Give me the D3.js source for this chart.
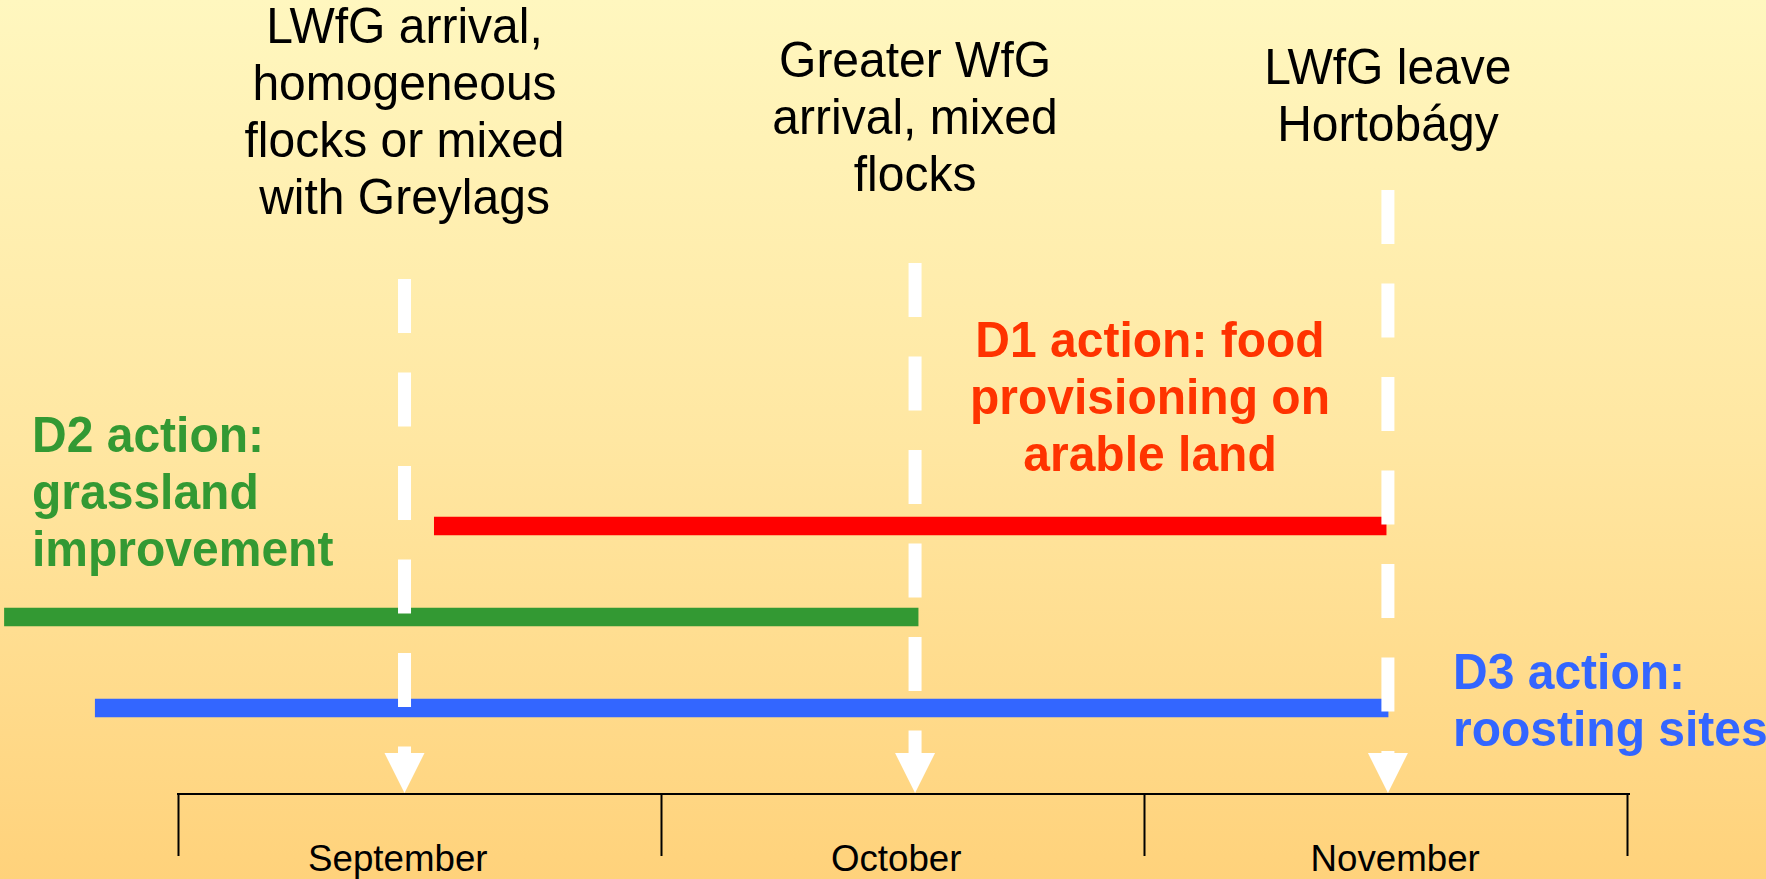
<!DOCTYPE html>
<html><head><meta charset="utf-8">
<script src="https://cdn.jsdelivr.net/npm/d3@7"></script>
<style>html,body{margin:0;padding:0;overflow:hidden;background:#fff;} svg{display:block;}</style>
</head><body>
<svg id="chart" width="1766" height="879"></svg>
<script>
// ---------- DATA (time in months since 1 September) ----------
const months = ["September", "October", "November"];
const monthTicks = [0, 1, 2, 3];
const monthLabelAt = [0.455, 1.487, 2.52];

const eventTimes = [0.469, 1.526, 2.505];
const eventLabels = [
  ["LWfG arrival,", "homogeneous", "flocks or mixed", "with Greylags"],
  ["Greater WfG", "arrival, mixed", "flocks"],
  ["LWfG leave", "Hortobágy"]
];

const actions = ["D1", "D2", "D3"];
const actionStart = [0.530, -0.360, -0.172];
const actionEnd = [2.502, 1.533, 2.506];
const actionLabels = [
  ["D1 action: food", "provisioning on", "arable land"],
  ["D2 action:", "grassland", "improvement"],
  ["D3 action:", "roosting sites"]
];

// ---------- LAYOUT / STYLE ----------
const W = 1766, H = 879;
const axisY = 794;
const lineH = 57;
const textScaleY = 1.03;
const eventLabelTop = [43, 77, 84];
const eventLineTop = [279, 263, 190];
const arrowTop = 753;
const actionColors = ["#FF0000", "#339933", "#3366FF"];
const actionTextColors = ["#FF3300", "#339933", "#3366FF"];
const actionLabelPos = [
  {x: 1150, y: 357, anchor: "middle"},
  {x: 32, y: 452, anchor: "start"},
  {x: 1453, y: 689, anchor: "start"}
];
const font = "'Liberation Sans', Arial, Helvetica, sans-serif";

const svg = d3.select("#chart");

// background gradient
const defs = svg.append("defs");
const grad = defs.append("linearGradient").attr("id", "bg")
  .attr("x1", 0).attr("y1", 0).attr("x2", 0).attr("y2", 1);
grad.append("stop").attr("offset", "0%").attr("stop-color", "#FFF7BF");
grad.append("stop").attr("offset", "50%").attr("stop-color", "#FFE7A2");
grad.append("stop").attr("offset", "100%").attr("stop-color", "#FFD27B");
svg.append("rect").attr("width", W).attr("height", H).attr("fill", "url(#bg)");

// scales
const x = d3.scaleLinear().domain([0, 3]).range([178, 1627]);
const y = d3.scalePoint().domain(actions).range([526, 708]);

// axis
const axis = d3.axisBottom(x).tickValues(monthTicks).tickSize(62).tickSizeOuter(0).tickFormat("");
const gAxis = svg.append("g").attr("transform", `translate(0,${axisY})`).call(axis);
gAxis.selectAll("path, line").attr("stroke", "#000").attr("stroke-width", 2);
gAxis.select(".domain").attr("d", `M${x(0)-1},0H${x(3)+3}`);

// month labels
svg.append("g").selectAll("text").data(months).join("text")
  .attr("text-anchor", "middle")
  .attr("font-family", font).attr("font-size", 36.7).attr("fill", "#000")
  .attr("transform", (d, i) => `translate(${x(monthLabelAt[i])},871) scale(1,${textScaleY})`)
  .text(d => d);

// action bars
svg.append("g").selectAll("rect").data(actions).join("rect")
  .attr("x", (d, i) => x(actionStart[i]))
  .attr("width", (d, i) => x(actionEnd[i]) - x(actionStart[i]))
  .attr("y", d => y(d) - 9.25)
  .attr("height", 18.5)
  .attr("fill", (d, i) => actionColors[i]);

// event dashed lines + arrows
const gEv = svg.append("g");
eventTimes.forEach((t, i) => {
  const cx = x(t);
  gEv.append("line")
    .attr("x1", cx).attr("x2", cx)
    .attr("y1", eventLineTop[i]).attr("y2", arrowTop)
    .attr("stroke", "#fff").attr("stroke-width", 13)
    .attr("stroke-dasharray", "54 39.5");
  gEv.append("path")
    .attr("d", `M${cx-20},${arrowTop}L${cx+20},${arrowTop}L${cx},${axisY-1}Z`)
    .attr("fill", "#fff");
});

// event labels
eventLabels.forEach((lines, i) => {
  const cx = x(eventTimes[i]);
  svg.append("g").selectAll("text").data(lines).join("text")
    .attr("text-anchor", "middle")
    .attr("font-family", font).attr("font-size", 48).attr("fill", "#000")
    .attr("transform", (d, k) => `translate(${cx},${eventLabelTop[i] + k * lineH}) scale(1,${textScaleY})`)
    .text(d => d);
});

// action labels
actionLabels.forEach((lines, i) => {
  const p = actionLabelPos[i];
  svg.append("g").selectAll("text").data(lines).join("text")
    .attr("text-anchor", p.anchor)
    .attr("font-family", font).attr("font-size", 48).attr("font-weight", "bold")
    .attr("fill", actionTextColors[i])
    .attr("transform", (d, k) => `translate(${p.x},${p.y + k * lineH}) scale(1,${textScaleY})`)
    .text(d => d);
});
</script>
</body></html>
